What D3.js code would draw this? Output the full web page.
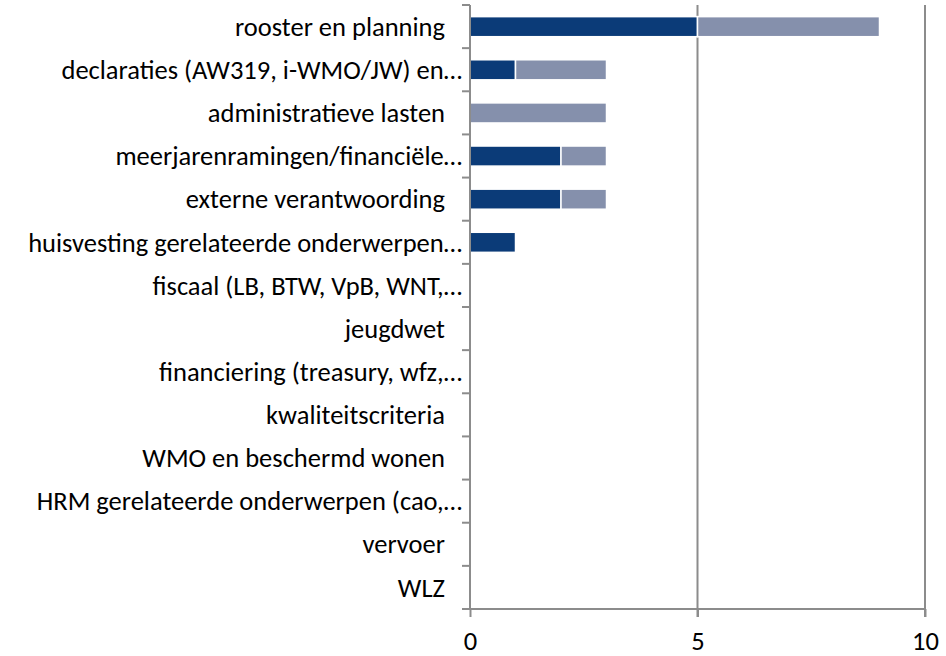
<!DOCTYPE html>
<html>
<head>
<meta charset="utf-8">
<script src="https://cdn.jsdelivr.net/npm/d3@7"></script>
<style>
  body { margin: 0; background: #fff; }
  text { font-family: Carlito, Calibri, "Open Sans", sans-serif; fill: #000; }
</style>
</head>
<body>
<div id="chart"></div>
<script>
// set dimensions & margins of graph
var width = 946;
var height = 656;
var margin = { top: 5, right: 21, bottom: 47, left: 470 };
var fontSize = '26.5px';

// data
var categories = ['rooster en planning ', 'declaraties (AW319, i-WMO/JW) en…', 'administratieve lasten ',
  'meerjarenramingen/financiële…', 'externe verantwoording ', 'huisvesting gerelateerde onderwerpen…',
  'fiscaal (LB, BTW, VpB, WNT,…', 'jeugdwet ', 'financiering (treasury, wfz,…', 'kwaliteitscriteria ',
  'WMO en beschermd wonen ', 'HRM gerelateerde onderwerpen (cao,…', 'vervoer ', 'WLZ '];
var seriesA = [5, 1, 0, 2, 2, 1, 0, 0, 0, 0, 0, 0, 0, 0];
var seriesB = [4, 2, 3, 1, 1, 0, 0, 0, 0, 0, 0, 0, 0, 0];
var xTicks = [0, 5, 10];

var colors = ['#0b3b78', '#8590ac'];

var rows = categories.map(function(c, i) {
  return { cat: c, a: seriesA[i], b: seriesB[i] };
});

var svg = d3.select('#chart')
  .append('svg')
  .attr('width', width)
  .attr('height', height);

var x = d3.scaleLinear()
  .domain([0, 10])
  .range([margin.left, width - margin.right]);

var y = d3.scaleBand()
  .domain(categories)
  .range([margin.top, height - margin.bottom])
  .paddingInner(0.535)
  .paddingOuter(0.27);

var stack = d3.stack().keys(['a', 'b']);
var stacked = stack(rows);

// gridlines
svg.append('g')
  .selectAll('line')
  .data(xTicks.slice(1))
  .enter()
  .append('line')
    .attr('x1', function(d) { return x(d); })
    .attr('x2', function(d) { return x(d); })
    .attr('y1', margin.top)
    .attr('y2', height - margin.bottom + 8)
    .attr('stroke', '#8c8c8c')
    .attr('stroke-width', 2);

// bars
svg.append('g')
  .selectAll('g')
  .data(stacked)
  .enter()
  .append('g')
    .attr('fill', function(d, i) { return colors[i]; })
  .selectAll('rect')
  .data(function(d) { return d; })
  .enter()
  .append('rect')
    .attr('x', function(d) { return x(d[0]); })
    .attr('y', function(d) { return y(d.data.cat); })
    .attr('width', function(d) { return x(d[1]) - x(d[0]); })
    .attr('height', y.bandwidth())
    .attr('stroke', 'white')
    .attr('stroke-width', 1.5)
    .style('display', function(d) { return d[1] - d[0] > 0 ? null : 'none'; });

// x axis
var xAxis = svg.append('g')
  .attr('transform', 'translate(0,' + (height - margin.bottom) + ')')
  .call(d3.axisBottom(x).tickValues(xTicks).tickSize(8).tickPadding(14).tickFormat(d3.format('d')));
xAxis.selectAll('line, path').attr('stroke', '#8c8c8c').attr('stroke-width', 2);
xAxis.select('.domain').attr('d', 'M' + x(0) + ',0H' + x(10));
xAxis.selectAll('text')
  .attr('font-size', fontSize)
  .attr('fill', '#000')
  .style('font-family', 'Carlito, Calibri, "Open Sans", sans-serif');

// y axis with ticks between categories
var yAxis = svg.append('g')
  .attr('transform', 'translate(' + margin.left + ',0)');
yAxis.append('line')
  .attr('x1', 0).attr('x2', 0)
  .attr('y1', margin.top).attr('y2', height - margin.bottom)
  .attr('stroke', '#8c8c8c').attr('stroke-width', 2);
var bandH = (height - margin.bottom - margin.top) / categories.length;
yAxis.selectAll('.ytick')
  .data(d3.range(categories.length + 1))
  .enter()
  .append('line')
    .attr('class', 'ytick')
    .attr('x1', -8).attr('x2', 0)
    .attr('y1', function(i) { return margin.top + i * bandH; })
    .attr('y2', function(i) { return margin.top + i * bandH; })
    .attr('stroke', '#8c8c8c').attr('stroke-width', 2);

// labels: trailing-space labels sit a bit further from the axis
yAxis.selectAll('.ylabel')
  .data(categories)
  .enter()
  .append('text')
    .attr('class', 'ylabel')
    .attr('x', function(d) { return / $/.test(d) ? -25 : -8; })
    .attr('y', function(d) { return y(d) + y.bandwidth() / 2; })
    .attr('dy', '0.35em')
    .attr('text-anchor', 'end')
    .attr('font-size', fontSize)
    .text(function(d) { return d.trim(); });
</script>
</body>
</html>
